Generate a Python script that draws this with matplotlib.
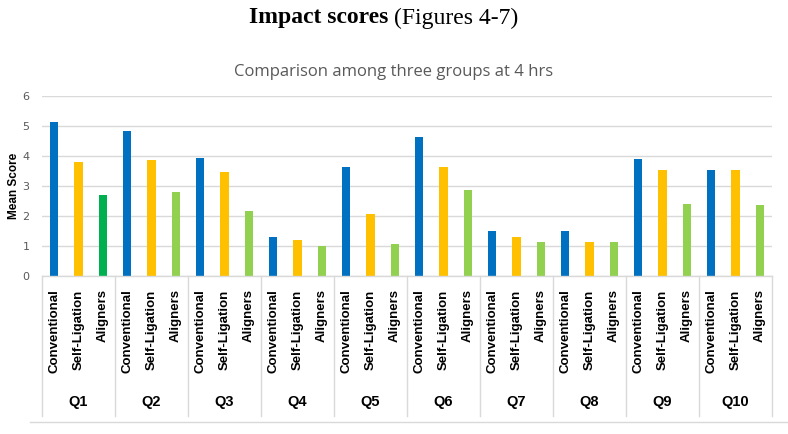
import matplotlib.pyplot as plt
from matplotlib.lines import Line2D
import numpy as np

# mean scores, one value per question
questions = ["Q1", "Q2", "Q3", "Q4", "Q5", "Q6", "Q7", "Q8", "Q9", "Q10"]
groups = ["Conventional", "Self-Ligation", "Aligners"]
conventional = [5.15, 4.82, 3.95, 1.30, 3.65, 4.65, 1.50, 1.50, 3.90, 3.55]
self_ligation = [3.80, 3.88, 3.47, 1.20, 2.08, 3.65, 1.30, 1.13, 3.55, 3.52]
aligners = [2.70, 2.80, 2.18, 1.00, 1.08, 2.88, 1.13, 1.13, 2.40, 2.37]

blue = "#0070C0"
yellow = "#FFC000"
green = "#92D050"

fig = plt.figure(figsize=(7.88, 4.34), dpi=100)
ax = fig.add_axes([42 / 788, 1 - 276 / 434, 730 / 788, 180 / 434])

n = len(questions)
x = np.arange(n) * 3
ax.bar(x, conventional, width=0.34, color=blue, zorder=3)
ax.bar(x + 1, self_ligation, width=0.34, color=yellow, zorder=3)
al_colors = ["#00B050"] + [green] * (n - 1)
ax.bar(x + 2, aligners, width=0.34, color=al_colors, zorder=3)

ax.set_xlim(-0.5, 3 * n - 0.5)
ax.set_ylim(0, 6)
ax.set_yticks(range(7))
ax.tick_params(axis="y", length=0, colors="#595959", labelsize=8, pad=9)
ax.set_xticks([])
ax.grid(axis="y", color="#D9D9D9", linewidth=1, zorder=0)
for s in ax.spines.values():
    s.set_visible(False)

ax.set_ylabel("Mean Score", fontsize=8.5, fontweight="bold", family="Liberation Sans", labelpad=2)

# category labels under the axis
for i in range(n):
    for j, g in enumerate(groups):
        ax.text(3 * i + j, -0.45, g, rotation=90, ha="center", va="top",
                fontsize=9.5, fontweight="bold", family="Liberation Sans", clip_on=False)
    ax.text(3 * i + 1, -4.2, questions[i], ha="center", va="center",
            fontsize=10.5, fontweight="bold", family="Liberation Sans", clip_on=False)

# separators between question boxes
for i in range(n + 1):
    ax.plot([3 * i - 0.5, 3 * i - 0.5], [0, -4.65], color="#D9D9D9", lw=1, clip_on=False)
ax.plot([-0.5, 3 * n - 0.5], [0, 0], color="#D9D9D9", lw=1, clip_on=False, zorder=4)

fig.add_artist(Line2D([30 / 788, 1], [1 - 422 / 434] * 2, color="#D9D9D9", lw=1))

fig.text(0.5, 1 - 72 / 434, "Comparison among three groups at 4 hrs", ha="center", va="center",
         fontsize=12, color="#595959", family="Open Sans")
fig.text(0.5, 1 - 18 / 434, "Impact scores ", ha="right", va="center", fontsize=17,
         fontweight="bold", family="Liberation Serif")
fig.text(0.5, 1 - 18 / 434, "(Figures 4-7)", ha="left", va="center", fontsize=17,
         family="Liberation Serif")

fig.savefig("out.png", dpi=100)
